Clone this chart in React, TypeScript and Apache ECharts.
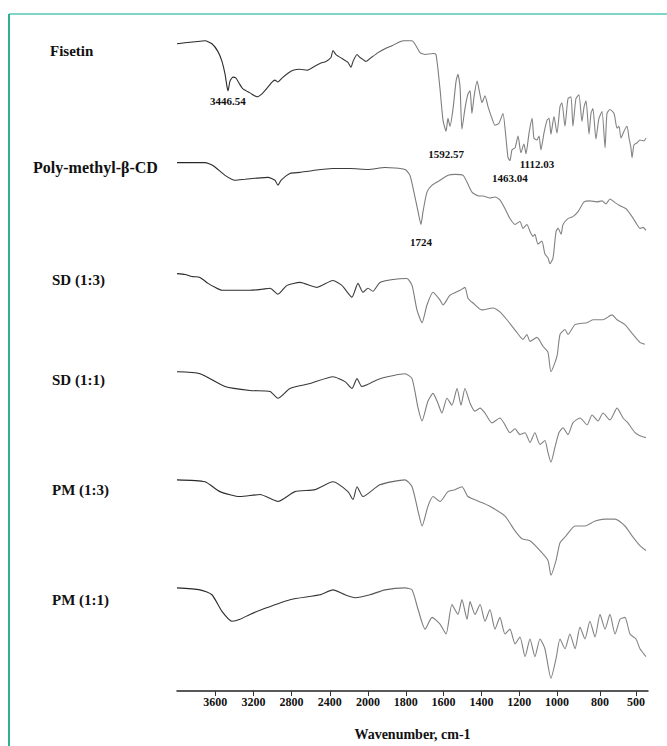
import React, { useEffect, useRef } from "react";
import * as echarts from "echarts";

// Split wavenumber scale of the instrument plot: [wavenumber, axis unit]
const axisKnots: [number, number][] = [
  [4000, 0],
  [2000, 191],
  [1000, 380],
  [800, 423],
  [400, 471],
];
const tickWavenumbers = [3600, 3200, 2800, 2400, 2000, 1800, 1600, 1400, 1200, 1000, 800, 500];

const traceNames = ["Fisetin", "Poly-methyl-β-CD", "SD (1:3)", "SD (1:1)", "PM (1:3)", "PM (1:1)"];
const traceOffsets = [659, 538, 425, 325, 215, 105];

const fisetinW = [4000, 3916, 3812, 3707, 3634, 3571, 3529, 3497, 3476, 3466, 3445, 3414, 3382, 3351, 3309, 3236, 3162, 3110, 3047, 3005, 2974, 2943, 2901, 2838, 2785, 2712, 2639, 2576, 2503, 2440, 2388, 2367, 2335, 2273, 2210, 2178, 2157, 2115, 2084, 2053, 2021, 1989, 1947, 1910, 1873, 1831, 1810, 1767, 1725, 1698, 1656, 1640, 1619, 1603, 1587, 1577, 1566, 1550, 1534, 1524, 1513, 1503, 1487, 1471, 1460, 1450, 1439, 1423, 1407, 1397, 1381, 1365, 1344, 1328, 1307, 1286, 1270, 1259, 1249, 1238, 1222, 1206, 1191, 1175, 1164, 1148, 1132, 1122, 1106, 1095, 1085, 1069, 1053, 1042, 1032, 1016, 1000, 986, 977, 963, 949, 935, 926, 912, 898, 884, 874, 865, 851, 842, 833, 819, 805, 783, 758, 742, 717, 683, 658, 642, 625, 600, 575, 558, 542, 533, 517, 492, 467, 433, 417];
const fisetinT = [0, 1, 2, 3, 0, -8, -18, -31, -44, -48, -38, -34, -35, -40, -46, -50, -54, -51, -44, -39, -37, -39, -35, -30, -27, -26, -27, -24, -20, -18, -14, -7, -11, -15, -19, -24, -18, -11, -14, -16, -18, -15, -9, -5, -2, 2, 3, 3, -9, -11, -10, -11, -46, -78, -89, -76, -84, -66, -38, -31, -44, -87, -66, -51, -48, -71, -54, -38, -52, -60, -53, -64, -76, -83, -81, -71, -96, -116, -119, -108, -106, -94, -111, -102, -112, -91, -76, -96, -98, -94, -108, -91, -78, -76, -92, -74, -91, -64, -60, -84, -56, -54, -84, -56, -52, -79, -64, -58, -92, -71, -66, -97, -76, -69, -106, -71, -67, -71, -86, -84, -96, -89, -84, -96, -106, -116, -103, -101, -98, -99, -96];

const polyW = [4000, 3707, 3623, 3497, 3393, 3288, 3183, 3047, 2974, 2943, 2911, 2817, 2712, 2576, 2367, 2189, 2000, 1910, 1804, 1778, 1757, 1735, 1720, 1709, 1688, 1661, 1619, 1577, 1540, 1497, 1476, 1450, 1413, 1392, 1355, 1328, 1302, 1275, 1249, 1222, 1196, 1180, 1159, 1143, 1127, 1117, 1101, 1080, 1064, 1048, 1037, 1021, 1005, 995, 981, 972, 949, 926, 902, 874, 847, 814, 783, 750, 717, 683, 633, 583, 533, 492, 467, 442, 417];
const polyT = [0, 0, -3, -13, -18, -17, -16, -15, -18, -23, -18, -11, -10, -8, -6, -6, -7, -5, -7, -13, -30, -50, -63, -50, -30, -23, -18, -13, -12, -13, -20, -30, -34, -34, -36, -35, -38, -47, -57, -63, -60, -67, -63, -70, -75, -73, -83, -80, -93, -97, -103, -97, -70, -67, -73, -63, -57, -55, -50, -40, -39, -40, -39, -42, -37, -40, -44, -47, -55, -63, -67, -66, -69];

const sd13W = [4000, 3916, 3843, 3759, 3675, 3602, 3529, 3414, 3236, 3110, 3026, 2943, 2848, 2712, 2534, 2367, 2273, 2168, 2105, 2053, 2000, 1974, 1937, 1868, 1794, 1767, 1741, 1714, 1688, 1656, 1619, 1603, 1566, 1513, 1487, 1471, 1444, 1397, 1339, 1302, 1265, 1212, 1180, 1159, 1143, 1106, 1074, 1048, 1032, 1000, 986, 963, 949, 916, 860, 833, 775, 700, 658, 592, 525, 467, 425];
const sd13T = [0, -1, -3, -4, -10, -14, -17, -17, -17, -16, -15, -21, -12, -9, -14, -7, -12, -24, -10, -19, -15, -18, -9, -6, -5, -12, -37, -50, -32, -19, -27, -32, -22, -17, -14, -25, -30, -37, -35, -39, -47, -60, -67, -62, -69, -65, -74, -80, -100, -84, -62, -57, -62, -52, -50, -47, -47, -42, -47, -52, -62, -70, -72];

const sd11W = [4000, 3759, 3497, 3236, 3026, 2943, 2817, 2607, 2367, 2241, 2168, 2115, 2063, 1937, 1804, 1767, 1735, 1714, 1683, 1656, 1630, 1609, 1582, 1556, 1529, 1508, 1487, 1460, 1434, 1407, 1381, 1344, 1302, 1275, 1249, 1222, 1196, 1169, 1143, 1117, 1090, 1064, 1048, 1032, 1011, 991, 972, 949, 926, 893, 860, 837, 809, 775, 717, 658, 608, 567, 508, 467, 417];
const sd11T = [0, -2, -15, -19, -20, -27, -17, -12, -5, -10, -17, -7, -15, -7, -2, -7, -37, -50, -30, -22, -32, -42, -27, -34, -17, -34, -17, -32, -40, -37, -42, -52, -47, -54, -62, -58, -64, -62, -72, -62, -74, -70, -82, -92, -77, -62, -57, -64, -52, -47, -54, -44, -50, -42, -49, -37, -47, -52, -62, -65, -67];

const pm13W = [4000, 3707, 3550, 3340, 3131, 2943, 2765, 2555, 2367, 2210, 2157, 2115, 2053, 1937, 1804, 1767, 1735, 1714, 1683, 1656, 1619, 1577, 1540, 1503, 1471, 1413, 1355, 1275, 1222, 1185, 1143, 1090, 1048, 1032, 1005, 986, 958, 916, 870, 823, 758, 675, 592, 533, 467, 417];
const pm13T = [0, -2, -12, -17, -15, -22, -12, -10, -2, -12, -20, -7, -17, -5, 0, -7, -32, -47, -27, -17, -22, -12, -10, -7, -17, -22, -27, -37, -52, -60, -62, -72, -82, -97, -82, -64, -57, -47, -47, -42, -40, -40, -47, -57, -67, -72];

const pm11W = [4000, 3759, 3634, 3529, 3424, 3340, 3236, 3110, 2817, 2503, 2367, 2241, 2136, 1989, 1910, 1804, 1767, 1735, 1698, 1661, 1619, 1587, 1556, 1524, 1503, 1476, 1460, 1434, 1407, 1381, 1355, 1328, 1302, 1275, 1249, 1222, 1196, 1169, 1143, 1117, 1090, 1064, 1032, 1005, 986, 963, 940, 916, 893, 870, 847, 823, 800, 758, 717, 675, 633, 592, 550, 500, 467, 417];
const pm11T = [0, -2, -7, -24, -34, -32, -27, -22, -12, -7, -2, -7, -10, -7, -2, 0, -2, -22, -42, -30, -37, -47, -17, -27, -12, -32, -14, -27, -17, -34, -22, -42, -30, -47, -42, -57, -50, -70, -52, -70, -52, -62, -92, -72, -52, -62, -47, -62, -40, -52, -34, -50, -27, -42, -27, -47, -32, -30, -47, -52, -62, -70];

const traceW = [fisetinW, polyW, sd13W, sd11W, pm13W, pm11W];
const traceT = [fisetinT, polyT, sd13T, sd11T, pm13T, pm11T];

// peak annotations: trace index, anchor wavenumber, text, label distance
const peakTrace = [0, 0, 0, 0, 1];
const peakAnchorW = [3466, 1587, 1249, 1106, 1720];
const peakText = ["3446.54", "1592.57", "1463.04", "1112.03", "1724"];
const peakGap = [5, 17, 12, 18, 12];

const labelTop = [52, 168, 281, 381, 491, 601];
const labelLeft = [50, 33, 52, 52, 52, 52];
const labelSize = [15, 16, 15, 15, 15, 15];

function toAxis(w: number): number {
  for (let i = 0; i < axisKnots.length - 1; i++) {
    const [w0, u0] = axisKnots[i];
    const [w1, u1] = axisKnots[i + 1];
    if (w <= w0 && w >= w1) return u0 + ((w0 - w) / (w0 - w1)) * (u1 - u0);
  }
  return w > axisKnots[0][0] ? axisKnots[0][1] : axisKnots[axisKnots.length - 1][1];
}

const SERIF = "'Liberation Serif', 'Times New Roman', serif";

export default function App() {
  const ref = useRef<HTMLDivElement>(null);
  useEffect(() => {
    if (!ref.current) return;
    const chart = echarts.init(ref.current, undefined, { renderer: "svg" });
    const tickU = tickWavenumbers.map(toAxis);
    const grad = {
      type: "linear",
      x: 0,
      y: 0,
      x2: 1,
      y2: 0,
      colorStops: [
        { offset: 0, color: "#262626" },
        { offset: 0.38, color: "#3c3c3c" },
        { offset: 0.5, color: "#7c7c7c" },
        { offset: 1, color: "#858585" },
      ],
    };
    const series: any[] = traceNames.map((name, k) => {
      const marks = peakTrace
        .map((t, j) => ({ t, j }))
        .filter((p) => p.t === k)
        .map(({ j }) => {
          const idx = traceW[k].indexOf(peakAnchorW[j]);
          return {
            name: peakText[j],
            coord: [toAxis(peakAnchorW[j]), traceOffsets[k] + traceT[k][idx]],
            label: { distance: peakGap[j] },
          };
        });
      return {
        type: "line",
        name,
        showSymbol: false,
        symbol: "none",
        silent: true,
        smooth: 0.2,
        lineStyle: { width: 1.1, color: grad },
        data: traceW[k].map((w, i) => [toAxis(w), traceOffsets[k] + traceT[k][i]]),
        markPoint: marks.length
          ? {
              symbol: "circle",
              symbolSize: 0,
              silent: true,
              label: {
                show: true,
                position: "bottom",
                formatter: "{b}",
                color: "#111",
                fontFamily: SERIF,
                fontWeight: "bold",
                fontSize: 11,
              },
              data: marks,
            }
          : undefined,
      };
    });

    const graphics: any[] = [
      { type: "line", shape: { x1: 9, y1: 14, x2: 667, y2: 14 }, style: { stroke: "#7fd6c8", lineWidth: 2 } },
      { type: "line", shape: { x1: 9, y1: 14, x2: 9, y2: 746 }, style: { stroke: "#2fae98", lineWidth: 2 } },
      ...traceNames.map((n, k) => ({
        type: "text",
        left: labelLeft[k],
        top: labelTop[k] - labelSize[k] * 0.55,
        style: { text: n, fill: "#111", font: `bold ${labelSize[k]}px ${SERIF}` },
      })),
    ];

    chart.setOption({
      animation: false,
      backgroundColor: "#ffffff",
      grid: { left: 177, right: 19, top: 30, bottom: 43 },
      xAxis: {
        type: "value",
        min: 0,
        max: axisKnots[axisKnots.length - 1][1],
        name: "Wavenumber, cm-1",
        nameLocation: "middle",
        nameGap: 36,
        nameTextStyle: { fontFamily: SERIF, fontWeight: "bold", fontSize: 14, color: "#111" },
        splitLine: { show: false },
        axisLine: { show: true, lineStyle: { color: "#222", width: 1.5 } },
        axisTick: { show: true, customValues: tickU, length: 5, lineStyle: { color: "#333" } },
        axisLabel: {
          show: true,
          customValues: tickU,
          margin: 5,
          color: "#111",
          fontFamily: SERIF,
          fontWeight: "bold",
          fontSize: 12,
          formatter: (v: number) => {
            let best = 0;
            tickU.forEach((u, i) => {
              if (Math.abs(u - v) < Math.abs(tickU[best] - v)) best = i;
            });
            return String(tickWavenumbers[best]);
          },
        },
      },
      yAxis: { type: "value", min: 0, max: 673, show: false },
      series,
      graphic: graphics,
    });
    return () => chart.dispose();
  }, []);
  return <div ref={ref} style={{ position: "fixed", left: 0, top: 0, width: 667, height: 746 }} />;
}
